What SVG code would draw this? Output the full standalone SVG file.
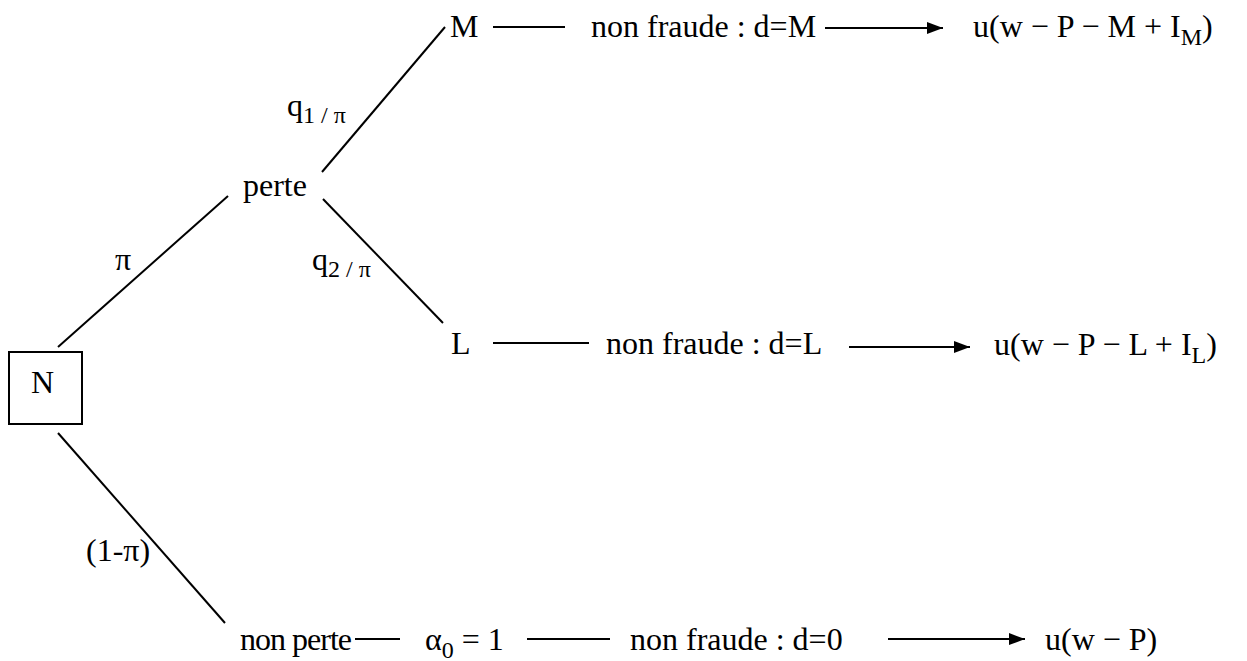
<svg xmlns="http://www.w3.org/2000/svg" width="1247" height="661" viewBox="0 0 1247 661">
<style>
text{font-family:"Liberation Serif","Times New Roman",serif;font-size:32px;fill:#000}
.sub{font-size:24px}
line{stroke:#000;stroke-width:2}
rect{fill:none;stroke:#000;stroke-width:2}
</style>
<defs>
<marker id="ah" viewBox="0 0 10 10" refX="10" refY="5" markerWidth="16" markerHeight="12" markerUnits="userSpaceOnUse" orient="auto" preserveAspectRatio="none">
<path d="M0,0 L10,5 L0,10 Z" fill="#000"/>
</marker>
</defs>
<g id="connectors">
<line x1="58" y1="347" x2="228" y2="196"/>
<line x1="58" y1="433" x2="225" y2="623"/>
<line x1="322" y1="172" x2="445" y2="27"/>
<line x1="323" y1="199" x2="443" y2="323"/>
<line x1="493" y1="27" x2="565" y2="27"/>
<line x1="825" y1="28" x2="943" y2="28" marker-end="url(#ah)"/>
<line x1="493" y1="343" x2="589" y2="343"/>
<line x1="849" y1="347" x2="970" y2="347" marker-end="url(#ah)"/>
<line x1="355" y1="639" x2="400" y2="639"/>
<line x1="527" y1="639" x2="610" y2="639"/>
<line x1="888" y1="639" x2="1025" y2="639" marker-end="url(#ah)"/>
<text x="115" y="270">π</text>
<text x="287" y="116">q<tspan class="sub" dy="7">1 / π</tspan></text>
<text x="312" y="270">q<tspan class="sub" dy="7">2 / π</tspan></text>
<text x="86" y="561">(1-π)</text>
</g>
<g id="node-N">
<rect x="9" y="352" width="73" height="72"/>
<text x="31" y="393">N</text>
</g>
<g id="node-perte"><text x="243" y="196">perte</text></g>
<g id="node-M"><text x="450" y="37">M</text></g>
<g id="node-fraudeM"><text x="591" y="37">non fraude : d=M</text></g>
<g id="node-uM"><text x="973" y="37">u(w − P − M + I<tspan class="sub" dy="8">M</tspan><tspan dy="-8">)</tspan></text></g>
<g id="node-L"><text x="451" y="354">L</text></g>
<g id="node-fraudeL"><text x="606" y="354">non fraude : d=L</text></g>
<g id="node-uL"><text x="994" y="355">u(w − P − L + I<tspan class="sub" dy="8">L</tspan><tspan dy="-8">)</tspan></text></g>
<g id="node-nonperte"><text x="240" y="650" textLength="112">non perte</text></g>
<g id="node-alpha"><text x="425" y="650">α<tspan class="sub" dy="8">0</tspan><tspan dy="-8"> = 1</tspan></text></g>
<g id="node-fraude0"><text x="630" y="650">non fraude : d=0</text></g>
<g id="node-u0"><text x="1045" y="650">u(w − P)</text></g>
</svg>
